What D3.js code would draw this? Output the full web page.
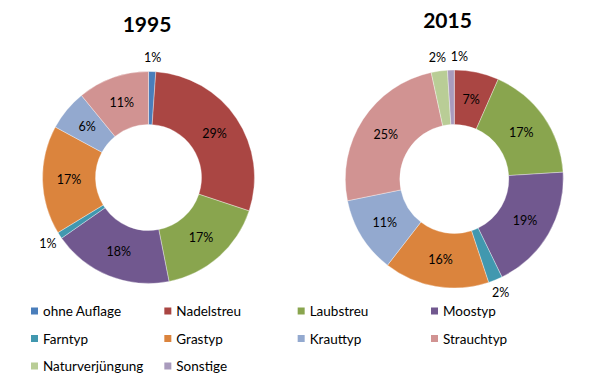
<!DOCTYPE html>
<html><head><meta charset="utf-8">
<script src="https://cdn.jsdelivr.net/npm/d3@7"></script>
<style>
html,body{margin:0;padding:0;background:#fff;}
svg{display:block;font-family:Lato,"Open Sans",sans-serif;}
</style></head>
<body>
<svg id="chart" width="600" height="383"></svg>
<script>
const categories = ["ohne Auflage","Nadelstreu","Laubstreu","Moostyp","Farntyp","Grastyp","Krauttyp","Strauchtyp","Naturverjüngung","Sonstige"];
const colors = ["#4A7EBB","#AA4643","#89A54E","#71588F","#4198AF","#DB843D","#93A9CF","#D19392","#B9CD96","#A99BBD"];
const years = ["1995","2015"];
const values1995 = [1.1, 29.0, 16.8, 18.4, 1.0, 16.6, 6.2, 10.9, 0, 0];
const values2015 = [0, 6.6, 17.4, 18.8, 2.1, 15.6, 11.3, 24.8, 2.4, 1.0];

const svg = d3.select("#chart");
const color = d3.scaleOrdinal().domain(categories).range(colors);

const charts = [
  {year: years[0], values: values1995, cx: 148.5, cy: 177.5, r: 106, tx: 147, ty: 32},
  {year: years[1], values: values2015, cx: 454.3, cy: 179, r: 109, tx: 447.5, ty: 27.5}
];

const pie = d3.pie().sort(null).value(d => d.v);

charts.forEach(c => {
  const data = categories.map((name, i) => ({name, v: c.values[i]}));
  const total = d3.sum(data, d => d.v);
  const arcs = pie(data);
  const inner = c.r * 0.5;
  const arc = d3.arc().innerRadius(inner).outerRadius(c.r);
  const midArc = d3.arc().innerRadius((inner + c.r) / 2).outerRadius((inner + c.r) / 2);
  const outArc = d3.arc().innerRadius(c.r + 14).outerRadius(c.r + 14);
  const g = svg.append("g").attr("transform", `translate(${c.cx},${c.cy})`);
  g.selectAll("path").data(arcs.filter(a => a.data.v > 0)).join("path")
    .attr("d", arc)
    .attr("fill", d => color(d.data.name))
    .attr("stroke", "#fff").attr("stroke-opacity", 0.5).attr("stroke-width", 0.7);

  const labels = arcs.filter(a => a.data.v > 0).map(a => {
    const pct = Math.round(a.data.v / total * 100);
    const outside = a.data.v / total < 0.03;
    const p = (outside ? outArc : midArc).centroid(a);
    return {text: pct + "%", x: p[0], y: p[1], outside};
  });
  const outs = labels.filter(l => l.outside).sort((a, b) => a.x - b.x);
  for (let i = 1; i < outs.length; i++) {
    const prev = outs[i - 1], cur = outs[i];
    if (Math.abs(cur.y - prev.y) < 14 && cur.x - prev.x < 22) cur.x = prev.x + 22;
  }
  g.selectAll("text.lbl").data(labels).join("text")
    .attr("class", "lbl")
    .attr("x", d => d.x).attr("y", d => d.y)
    .attr("text-anchor", "middle").attr("dominant-baseline", "central")
    .attr("font-size", 12.5).attr("fill", "#000")
    .text(d => d.text);

  svg.append("text").attr("x", c.tx).attr("y", c.ty)
    .attr("text-anchor", "middle").attr("font-size", 21).attr("font-weight", "bold")
    .attr("fill", "#000").text(c.year);
});

// legend
const colX = d3.scaleLinear().domain([0, 3]).range([31, 431]);
const rowY = d3.scaleLinear().domain([0, 2]).range([311, 366]);
const lg = svg.append("g");
const items = lg.selectAll("g").data(categories).join("g")
  .attr("transform", (d, i) => `translate(${colX(i % 4)},${rowY(Math.floor(i / 4))})`);
items.append("rect").attr("x", 0).attr("y", -3.5).attr("width", 7).attr("height", 7)
  .attr("fill", d => color(d));
items.append("text").attr("x", 12).attr("y", 0).attr("dominant-baseline", "central")
  .attr("font-size", 13.5).attr("fill", "#000").text(d => d);
</script>
</body></html>
